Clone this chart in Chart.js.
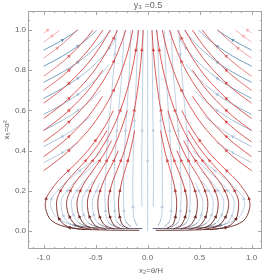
<!DOCTYPE html>
<html>
<head>
<meta charset="UTF-8">
<title>y3 = 0.5 stream plot</title>
<style>
  body { margin: 0; background: #ffffff; }
  #wrap { width: 270px; height: 278px; }
</style>
</head>
<body>
<div id="wrap"><canvas id="chart" width="270" height="278"></canvas></div>
<script src="https://cdn.jsdelivr.net/npm/chart.js@4.4.0/dist/chart.umd.min.js"></script>
<script>
// the plot is mirror symmetric about x2 = 0, so the right half is the same lines with x2 negated.

// red lines that come up from the bottom ("(" shapes), leaning in as they rise
const redFromBottom = [
  [[-0.08,0.003],[-0.45,0.005],[-0.75,0.016],[-0.92,0.05],[-0.98,0.11],[-0.975,0.16],[-0.932,0.2],[-0.859,0.25],[-0.761,0.3],[-0.662,0.35],[-0.575,0.4],[-0.501,0.45],[-0.435,0.5],[-0.378,0.55],[-0.329,0.6]],
  [[-0.6,0.006],[-0.77,0.022],[-0.85,0.06],[-0.875,0.12],[-0.87,0.16],[-0.837,0.2],[-0.772,0.25],[-0.684,0.3],[-0.595,0.35],[-0.517,0.4],[-0.45,0.45],[-0.391,0.5]],
  [[-0.54,0.008],[-0.68,0.026],[-0.75,0.07],[-0.778,0.12],[-0.773,0.16],[-0.742,0.2],[-0.684,0.25],[-0.606,0.3],[-0.527,0.35],[-0.458,0.4],[-0.346,0.5],[-0.262,0.6],[-0.198,0.7],[-0.15,0.8],[-0.113,0.9],[-0.085,1.0]],
  [[-0.47,0.008],[-0.59,0.026],[-0.655,0.07],[-0.678,0.12],[-0.674,0.16],[-0.647,0.2],[-0.596,0.25],[-0.528,0.3],[-0.46,0.35],[-0.399,0.4],[-0.347,0.45]],
  [[-0.4,0.008],[-0.5,0.026],[-0.558,0.07],[-0.578,0.12],[-0.575,0.16],[-0.552,0.2],[-0.509,0.25],[-0.451,0.3],[-0.392,0.35],[-0.34,0.4],[-0.258,0.5],[-0.195,0.6]],
  [[-0.32,0.01],[-0.41,0.028],[-0.46,0.07],[-0.478,0.12],[-0.476,0.16],[-0.456,0.2],[-0.421,0.25],[-0.373,0.3],[-0.324,0.35],[-0.282,0.4]],
  [[-0.25,0.01],[-0.32,0.028],[-0.362,0.07],[-0.378,0.12],[-0.377,0.16],[-0.361,0.2],[-0.333,0.25],[-0.295,0.3],[-0.257,0.35],[-0.223,0.4],[-0.169,0.5],[-0.128,0.6],[-0.097,0.7],[-0.073,0.8],[-0.055,0.9],[-0.042,1.0]],
  [[-0.18,0.012],[-0.24,0.03],[-0.268,0.07],[-0.279,0.12],[-0.278,0.16],[-0.266,0.2],[-0.246,0.25],[-0.218,0.3],[-0.19,0.35],[-0.164,0.4],[-0.124,0.5]]
];

// red lines entering through the left edge, running up and in at about 45-60 degrees
const redFromEdge = [
  [[-1,0.3],[-0.869,0.35],[-0.756,0.4],[-0.571,0.5],[-0.432,0.6],[-0.326,0.7],[-0.247,0.8],[-0.186,0.9],[-0.141,1.0]],
  [[-1,0.37],[-0.869,0.42],[-0.756,0.47],[-0.571,0.57],[-0.432,0.67]],
  [[-1,0.443],[-0.869,0.493],[-0.756,0.543],[-0.571,0.643],[-0.432,0.743],[-0.326,0.843],[-0.247,0.943],[-0.21,1.0]],
  [[-1,0.5],[-0.869,0.55],[-0.756,0.6],[-0.571,0.7],[-0.432,0.8]],
  [[-1,0.56],[-0.869,0.61],[-0.756,0.66],[-0.571,0.76],[-0.432,0.86],[-0.326,0.96],[-0.29,1.0]],
  [[-1,0.636],[-0.869,0.686],[-0.756,0.736],[-0.571,0.836],[-0.432,0.936],[-0.36,1.0]],
  [[-1,0.7],[-0.869,0.75],[-0.756,0.8],[-0.571,0.9],[-0.43,1.0]],
  [[-1,0.77],[-0.869,0.82],[-0.756,0.87],[-0.63,0.935],[-0.525,1.0]],
  [[-1,0.86],[-0.869,0.91],[-0.756,0.96],[-0.676,1.0]],
  [[-1,0.94],[-0.92,0.97],[-0.845,1.0]],
  [[-1,0.985],[-0.96,1.0]]
];

// blue lines from the bottom: outer ones lean in and stop, inner ones stay almost vertical
const blueFromBottom = [
  [[-0.05,0.012],[-0.4,0.013],[-0.7,0.028],[-0.87,0.065],[-0.93,0.12],[-0.925,0.16],[-0.866,0.2],[-0.771,0.25],[-0.649,0.3],[-0.531,0.35],[-0.435,0.4]],
  [[-0.62,0.015],[-0.75,0.036],[-0.81,0.075],[-0.83,0.12],[-0.826,0.16],[-0.773,0.2],[-0.688,0.25],[-0.579,0.3],[-0.474,0.35]],
  [[-0.55,0.017],[-0.66,0.04],[-0.713,0.08],[-0.73,0.12],[-0.727,0.16],[-0.68,0.2],[-0.605,0.25],[-0.51,0.3]],
  [[-0.47,0.017],[-0.57,0.04],[-0.615,0.08],[-0.63,0.12],[-0.627,0.16],[-0.587,0.2],[-0.522,0.25]],
  [[-0.39,0.017],[-0.48,0.04],[-0.518,0.08],[-0.53,0.12],[-0.527,0.16],[-0.493,0.2],[-0.46,0.24]],
  [[-0.3,0.018],[-0.38,0.045],[-0.404,0.1],[-0.41,0.18],[-0.402,0.3],[-0.385,0.45],[-0.36,0.6],[-0.335,0.75],[-0.315,0.88],[-0.3,1.0]],
  [[-0.23,0.018],[-0.295,0.045],[-0.316,0.1],[-0.322,0.2],[-0.314,0.35],[-0.295,0.5],[-0.27,0.65],[-0.245,0.8],[-0.225,1.0]],
  [[-0.16,0.02],[-0.21,0.047],[-0.228,0.1],[-0.232,0.2],[-0.226,0.35],[-0.212,0.5],[-0.193,0.65],[-0.175,0.8],[-0.16,1.0]],
  [[-0.1,0.025],[-0.13,0.06],[-0.14,0.12],[-0.142,0.25],[-0.137,0.4],[-0.127,0.55],[-0.114,0.7],[-0.102,0.85],[-0.093,1.0]],
  [[-0.055,0.12],[-0.057,0.3],[-0.053,0.5],[-0.048,0.7],[-0.044,1.0]]
];

// blue lines entering through the left edge, shallower than the red ones
const blueFromEdge = [
  [[-1,0.34],[-0.819,0.39],[-0.67,0.44]],
  [[-1,0.42],[-0.819,0.47],[-0.67,0.52],[-0.549,0.57]],
  [[-1,0.5],[-0.819,0.55],[-0.67,0.6],[-0.549,0.65],[-0.449,0.7]],
  [[-1,0.58],[-0.819,0.63],[-0.67,0.68],[-0.549,0.73],[-0.449,0.78],[-0.368,0.83]],
  [[-1,0.66],[-0.819,0.71],[-0.67,0.76],[-0.549,0.81],[-0.449,0.86],[-0.368,0.91],[-0.301,0.96]],
  [[-1,0.74],[-0.819,0.79],[-0.67,0.84],[-0.549,0.89],[-0.449,0.94],[-0.353,1.0]],
  [[-1,0.82],[-0.819,0.87],[-0.67,0.92],[-0.549,0.97],[-0.49,1.0]],
  [[-1,0.9],[-0.819,0.95],[-0.67,1.0]]
];

// the single line on the axis of symmetry
const centreLine = [[0,0.0],[0,0.35],[0,0.7],[0,1.0]];

const xTickValues = [-1, -0.5, 0, 0.5, 1];
const xTickLabels = ['-1.0', '-0.5', '0.0', '0.5', '1.0'];
const yTickValues = [0, 0.2, 0.4, 0.6, 0.8, 1.0];
const yTickLabels = ['0.0', '0.2', '0.4', '0.6', '0.8', '1.0'];

function clamp(v) { return Math.max(0, Math.min(1, v)); }
function mix(a, b, t) {
  return a.map((c, i) => Math.round(c + (b[i] - c) * t));
}
function rgb(c) { return 'rgb(' + c.join(',') + ')'; }

function redColor(x, y) {
  let c = mix([216, 74, 74], [98, 34, 34], clamp((0.28 - y) / 0.22));
  c = mix(c, [244, 172, 172], clamp((Math.abs(x) + y - 1.55) / 0.35));
  return rgb(c);
}
function blueColor(x, y) {
  let c = mix([184, 203, 224], [96, 146, 178], clamp((Math.abs(x) + y - 1.2) / 0.5));
  c = mix(c, [68, 72, 94], clamp((0.05 - y) / 0.04));
  return rgb(c);
}

const datasets = [];
function addLine(pts, colorFn) {
  const data = pts.map(p => ({ x: p[0], y: p[1] }));
  const n = data.length;
  const radius = [], rot = [], fill = [];
  for (let i = 0; i < n; i++) {
    const arrow = (n <= 4) ? i === 1 : (i > 0 && i < n - 1 && i % 3 === 2);
    radius.push(arrow ? 2.1 : 0);
    const a = data[Math.max(0, i - 1)], b = data[Math.min(n - 1, i + 1)];
    rot.push(Math.atan2((b.x - a.x) * 104, (b.y - a.y) * 201) * 180 / Math.PI);
    fill.push(colorFn(data[i].x, data[i].y));
  }
  datasets.push({
    data: data,
    showLine: true,
    tension: 0.35,
    borderWidth: 0.9,
    borderColor: colorFn(data[0].x, data[0].y),
    segment: {
      borderColor: ctx => {
        const a = data[ctx.p0DataIndex], b = data[ctx.p1DataIndex];
        return colorFn((a.x + b.x) / 2, (a.y + b.y) / 2);
      }
    },
    pointStyle: 'triangle',
    pointRadius: radius,
    pointRotation: rot,
    pointBackgroundColor: fill,
    pointBorderWidth: 0
  });
}
function mirror(pts) { return pts.map(p => [-p[0], p[1]]); }

redFromBottom.concat(redFromEdge).forEach(l => { addLine(l, redColor); addLine(mirror(l), redColor); });
blueFromBottom.concat(blueFromEdge).forEach(l => { addLine(l, blueColor); addLine(mirror(l), blueColor); });
addLine(centreLine, blueColor);

const framePlugin = {
  id: 'frame',
  afterDraw(chart) {
    const ctx = chart.ctx, a = chart.chartArea;
    const xs = chart.scales.x, ys = chart.scales.y;
    ctx.save();
    ctx.strokeStyle = '#a4a4a4';
    ctx.lineWidth = 1;
    ctx.strokeRect(Math.round(a.left) + 0.5, Math.round(a.top) + 0.5,
      Math.round(a.right - a.left) - 1, Math.round(a.bottom - a.top) - 1);
    ctx.beginPath();
    for (let k = -11; k <= 10; k++) {
      const px = Math.round(xs.getPixelForValue(k / 10)) + 0.5;
      const len = (k % 5 === 0) ? 4 : 2;
      ctx.moveTo(px, a.bottom); ctx.lineTo(px, a.bottom - len);
      ctx.moveTo(px, a.top); ctx.lineTo(px, a.top + len);
    }
    for (let k = -1; k <= 21; k++) {
      const py = Math.round(ys.getPixelForValue(k / 20)) + 0.5;
      const len = (k % 4 === 0) ? 4 : 2;
      ctx.moveTo(a.left, py); ctx.lineTo(a.left + len, py);
      ctx.moveTo(a.right, py); ctx.lineTo(a.right - len, py);
    }
    ctx.stroke();

    ctx.fillStyle = '#666';
    ctx.font = '8px "Liberation Sans", Arial, sans-serif';
    ctx.textAlign = 'center';
    ctx.textBaseline = 'middle';
    xTickValues.forEach((v, i) => ctx.fillText(xTickLabels[i], xs.getPixelForValue(v), 258));
    ctx.textAlign = 'right';
    yTickValues.forEach((v, i) => ctx.fillText(yTickLabels[i], 26, ys.getPixelForValue(v)));

    ctx.font = '9px "Liberation Sans", Arial, sans-serif';
    ctx.textAlign = 'center';
    ctx.fillText('y\u2083 =0.5', 148, 6);
    ctx.font = '8px "Liberation Sans", Arial, sans-serif';
    ctx.fillText('x\u2082=\u03b8/H', 151, 271);
    ctx.translate(7, 130);
    ctx.rotate(-Math.PI / 2);
    ctx.fillText('x\u2085=\u03b1\u00b2', 0, 0);
    ctx.restore();
  }
};

new Chart(document.getElementById('chart'), {
  type: 'scatter',
  data: { datasets: datasets },
  options: {
    responsive: false,
    devicePixelRatio: 1,
    animation: false,
    events: [],
    layout: { padding: { left: 28, right: 8, top: 11, bottom: 29 } },
    scales: {
      x: { type: 'linear', min: -1.15, max: 1.1, display: false },
      y: { type: 'linear', min: -0.09, max: 1.095, display: false }
    },
    plugins: { legend: { display: false }, tooltip: { enabled: false } }
  },
  plugins: [framePlugin]
});
</script>
</body>
</html>
